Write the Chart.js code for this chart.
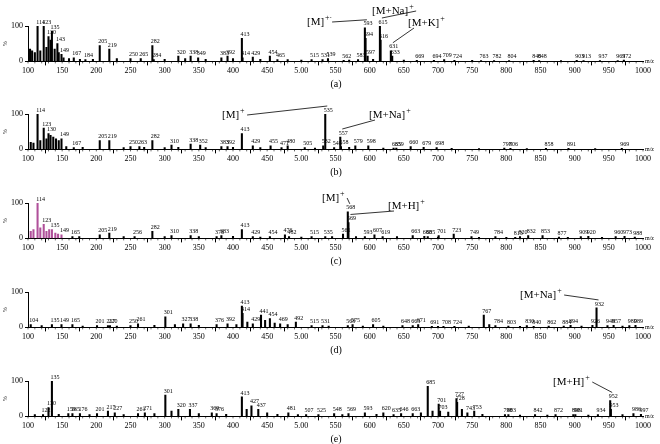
<!DOCTYPE html>
<html><head><meta charset="utf-8">
<script src="https://cdn.jsdelivr.net/npm/chart.js@4"></script>
<style>
body{margin:0;background:#fff;width:660px;height:444px;overflow:hidden}
.p{position:absolute;left:0;width:660px;height:89px}
</style></head><body>
<div class="p" style="top:0px"><canvas id="ca"></canvas></div>
<div class="p" style="top:88px"><canvas id="cb"></canvas></div>
<div class="p" style="top:177px"><canvas id="cc"></canvas></div>
<div class="p" style="top:266px"><canvas id="cd"></canvas></div>
<div class="p" style="top:355px"><canvas id="ce"></canvas></div>
<script>
// ─── Datos ────────────────────────────────────────────────────
const xTickLabels = ["100","150","200","250","300","350","400","450","5.00","550","600","650","700","750","800","850","900","950","1000"];
const yTickLabels = ["0","100"];

// picos etiquetados [m/z, %]
const picosA = [[114,100],[123,100],[135,85],[130,70],[143,50],[149,20],[167,10],[184,5],[205,45],[219,35],[250,8],[265,8],[282,45],[284,5],[320,15],[338,15],[349,10],[383,10],[392,15],[413,65],[414,10],[429,12],[454,15],[465,5],[515,5],[531,5],[539,8],[562,3],[583,5],[593,95],[594,65],[597,15],[615,100],[616,60],[631,30],[633,15],[669,3],[694,3],[709,5],[724,3],[763,2],[782,2],[804,2],[840,3],[848,2],[903,3],[913,2],[937,2],[963,2],[972,4]];
const ruidoA = [[103,35],[106,30],[110,25],[118,30],[127,40],[133,60],[139,35],[145,25],[152,10],[160,8],[176,6],[195,6],[230,8],[300,6],[330,8],[360,6],[400,8],[440,6],[480,5],[500,4],[570,4],[605,6],[650,4],[750,3],[880,2]];
const picosB = [[114,100],[123,60],[130,45],[149,30],[167,5],[205,25],[219,25],[250,8],[263,8],[282,25],[310,12],[338,15],[352,12],[383,8],[392,8],[413,45],[429,10],[455,10],[471,5],[480,10],[505,5],[532,10],[535,100],[548,5],[557,35],[558,8],[579,10],[598,10],[635,4],[639,4],[660,8],[679,6],[698,5],[797,4],[806,3],[858,3],[891,3],[969,3]];
const ruidoB = [[104,20],[108,18],[118,25],[127,30],[133,40],[137,35],[141,30],[145,25],[156,8],[180,6],[240,5],[270,6],[300,5],[320,6],[360,5],[400,6],[440,5],[520,4],[570,6],[620,4],[720,3],[760,2],[830,2],[930,2]];
const picosC = [[114,100],[123,40],[135,25],[149,10],[165,5],[205,10],[219,15],[256,5],[282,20],[310,8],[338,8],[376,5],[383,8],[413,25],[429,5],[454,5],[476,10],[482,5],[515,5],[535,5],[561,12],[568,75],[569,45],[593,5],[607,10],[619,5],[663,8],[680,6],[685,5],[701,8],[723,12],[749,5],[784,5],[813,3],[820,5],[832,8],[853,8],[877,4],[909,5],[920,6],[960,5],[973,6],[988,4]];
const ruidoC = [[104,20],[108,25],[118,30],[127,20],[131,25],[140,15],[144,12],[175,5],[240,5],[300,5],[350,5],[400,6],[440,4],[500,4],[545,5],[580,5],[640,5],[700,4],[760,3],[800,3],[890,3],[940,3]];
const picosD = [[104,8],[135,8],[149,8],[165,8],[201,5],[217,5],[220,5],[250,5],[261,10],[301,30],[327,10],[338,10],[376,8],[392,10],[413,60],[414,40],[429,10],[441,35],[454,25],[469,10],[492,15],[515,5],[531,5],[568,5],[575,8],[605,8],[648,5],[663,5],[671,8],[691,3],[708,3],[724,3],[767,35],[784,5],[803,4],[830,5],[840,3],[862,4],[884,4],[894,6],[926,6],[932,55],[948,5],[957,6],[980,5],[989,6]];
const ruidoD = [[120,5],[180,4],[230,4],[285,6],[315,8],[350,6],[405,8],[421,15],[447,20],[461,12],[480,8],[540,4],[590,4],[620,4],[700,3],[745,4],[775,8],[820,3],[910,4],[970,4]];
const picosE = [[122,5],[130,25],[135,100],[159,8],[165,8],[176,8],[201,8],[217,15],[227,10],[261,8],[271,10],[301,60],[320,20],[337,20],[369,10],[376,8],[413,55],[427,30],[437,20],[481,10],[507,5],[525,5],[548,8],[569,8],[593,10],[620,10],[635,5],[646,8],[663,8],[685,85],[701,35],[703,15],[727,50],[728,40],[743,10],[753,15],[798,5],[803,5],[842,5],[872,5],[898,5],[901,5],[934,5],[952,45],[953,20],[986,8],[997,6]];
const ruidoE = [[110,5],[145,6],[190,5],[240,5],[285,8],[310,15],[350,8],[390,6],[420,20],[450,10],[465,6],[495,5],[560,5],[610,6],[675,10],[692,15],[715,12],[735,20],[765,6],[820,4],[860,4],[920,4],[970,5]];

// anotaciones: [texto, sup, m/z destino, x etiqueta px, y etiqueta px]
const anotA = [["[M]","+·",593,307,25],["[M+Na]","+",615,372,14],["[M+K]","+",631,408,26]];
const anotB = [["[M]","+",535,222,30],["[M+Na]","+",557,369,30]];
const anotC = [["[M]","+",568,322,24],["[M+H]","+",569,388,32]];
const anotD = [["[M+Na]","+",932,520,32]];
const anotE = [["[M+H]","+",952,553,30]];

const fuente = "'Liberation Serif', 'DejaVu Serif', serif";

// ─── Plugin de dibujo ─────────────────────────────────────────
const extras = {
  id: "extras",
  afterDatasetsDraw(chart, args, opt) {
    const { ctx, scales: { x, y } } = chart;
    ctx.save();
    ctx.fillStyle = "#000"; ctx.strokeStyle = "#000";
    // marcas menores
    ctx.lineWidth = 0.6;
    for (let v = 100; v <= 1000; v += 10) {
      const px = x.getPixelForValue(v);
      ctx.beginPath(); ctx.moveTo(px, y.bottom); ctx.lineTo(px, y.bottom + 2); ctx.stroke();
    }
    // etiquetas de picos
    ctx.font = "6px " + fuente; ctx.textAlign = "center"; ctx.textBaseline = "bottom";
    opt.picos.forEach(([m, i]) => {
      ctx.fillText(String(m), x.getPixelForValue(m) + 3, y.getPixelForValue(i) - 1);
    });
    // m/z
    ctx.textAlign = "left"; ctx.textBaseline = "middle";
    ctx.fillText("m/z", x.right + 2, y.bottom);
    // %
    ctx.save(); ctx.translate(5, (y.top + y.bottom) / 2); ctx.rotate(-Math.PI / 2);
    ctx.textAlign = "center"; ctx.fillText("%", 0, 0); ctx.restore();
    // anotaciones
    opt.anot.forEach(([t, s, m, lx, ly]) => {
      ctx.font = "11px " + fuente; ctx.textAlign = "left"; ctx.textBaseline = "alphabetic";
      const w = ctx.measureText(t).width;
      ctx.fillText(t, lx, ly);
      ctx.font = "8px " + fuente; ctx.fillText(s, lx + w + 1, ly - 5);
      const px = x.getPixelForValue(m), py = y.getPixelForValue(opt.alto[m]) - 8;
      ctx.lineWidth = 0.8;
      ctx.beginPath();
      if (lx > px) { ctx.moveTo(lx + 6, ly + 2); } else { ctx.moveTo(lx + w + 8, ly - 3); }
      ctx.lineTo(px + 2, py); ctx.stroke();
    });
    // rótulo
    ctx.font = "10px " + fuente; ctx.textAlign = "center"; ctx.textBaseline = "alphabetic";
    ctx.fillText(opt.rotulo, 336, chart.height - 2);
    ctx.restore();
  }
};

function crearPanel(id, picos, ruido, anot, rotulo, colorBajo) {
  const todos = picos.concat(ruido).map(([m, i]) => ({ x: m, y: i }));
  const alto = {}; picos.forEach(([m, i]) => alto[m] = i);
  new Chart(document.getElementById(id), {
    type: "bar",
    data: { datasets: [{
      data: todos,
      backgroundColor: todos.map(p => colorBajo && p.x < 160 ? colorBajo : "#000"),
      barThickness: 1.4, categoryPercentage: 1, barPercentage: 1
    }] },
    options: {
      responsive: true, maintainAspectRatio: false, animation: false,
      layout: { padding: { top: 26, right: 17, left: 0, bottom: 12 } },
      plugins: { legend: { display: false }, tooltip: { enabled: false },
                 extras: { picos, anot, rotulo, alto } },
      scales: {
        x: { type: "linear", min: 100, max: 1000, offset: false,
             grid: { drawOnChartArea: false, color: "#000", tickLength: 4 },
             border: { color: "#000" },
             ticks: { stepSize: 50, autoSkip: false, maxRotation: 0, color: "#000", padding: 1,
                      font: { family: fuente, size: 8 },
                      callback: v => xTickLabels[(v - 100) / 50] } },
        y: { min: 0, max: 100,
             grid: { drawOnChartArea: false, color: "#000", tickLength: 3 },
             border: { color: "#000" },
             afterFit: s => { s.width = 28; },
             ticks: { stepSize: 100, color: "#000", padding: 2,
                      font: { family: fuente, size: 8 },
                      callback: v => yTickLabels[v / 100] } }
      }
    },
    plugins: [extras]
  });
}

crearPanel("ca", picosA, ruidoA, anotA, "(a)");
crearPanel("cb", picosB, ruidoB, anotB, "(b)");
crearPanel("cc", picosC, ruidoC, anotC, "(c)", "#b0509a");
crearPanel("cd", picosD, ruidoD, anotD, "(d)");
crearPanel("ce", picosE, ruidoE, anotE, "(e)");
</script>
</body></html>
